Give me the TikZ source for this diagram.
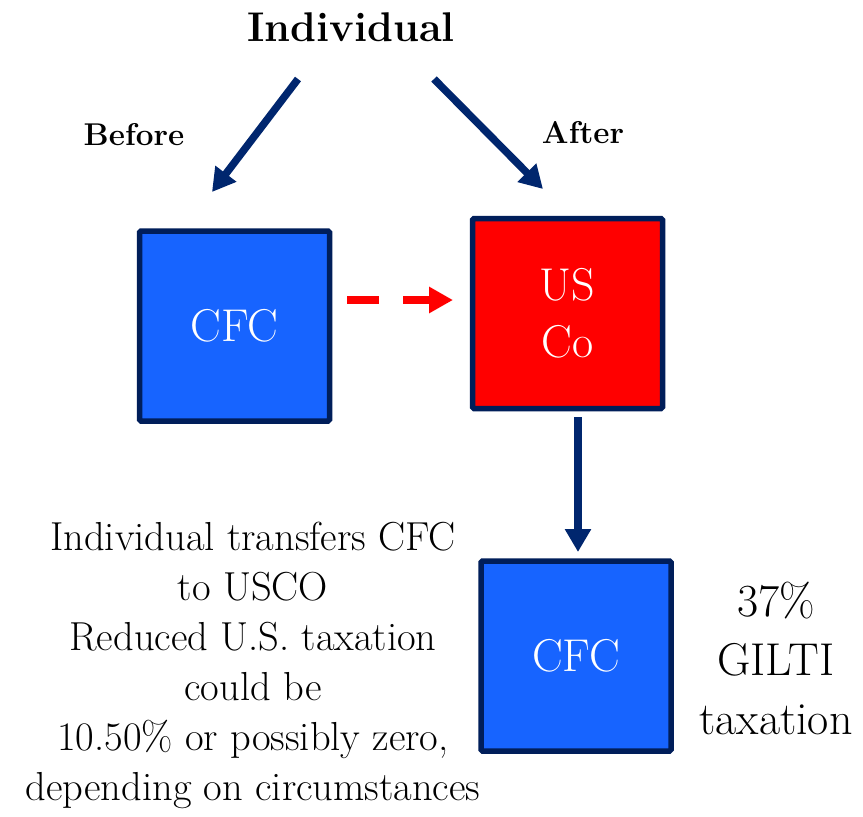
\documentclass[tikz,border=0pt]{standalone}
\usetikzlibrary{arrows.meta}
\definecolor{navy}{RGB}{0,38,110}
\definecolor{edgenavy}{RGB}{0,30,90}
\definecolor{boxblue}{RGB}{23,100,255}
\definecolor{boxred}{RGB}{255,0,0}
\tikzset{
  entity/.style={draw=edgenavy, line width=5.5pt, rounded corners=1.5pt,
    minimum width=190pt, minimum height=190pt, text=white,
    font=\fontsize{46}{57}\selectfont, align=center, inner sep=0pt},
  flow/.style={draw=navy, line width=7.5pt,
    -{Triangle[length=23pt,width=25pt]}},
  move/.style={draw=boxred, line width=7.5pt, dash pattern=on 32pt off 24pt,
    -{Triangle[length=24pt,width=25pt]}},
  caption/.style={font=\fontsize{40.5}{50}\selectfont, align=center, inner sep=0pt},
  tag/.style={font=\bfseries\fontsize{31.5}{36}\selectfont, inner sep=0pt}
}
\begin{document}
\begin{tikzpicture}[x=1pt,y=-1pt]
  \useasboundingbox[fill=white] (0,0) rectangle (863,817);
  % headline and branch labels
  \node[font=\bfseries\fontsize{41.5}{50}\selectfont, inner sep=0pt] (indiv) at (351,27) {Individual};
  \node[tag] (before) at (134,135) {Before};
  \node[tag] (after) at (583,133) {After};
  % entities
  \node[entity, fill=boxblue] (cfcA) at (234.5,326) {CFC};
  \node[entity, fill=boxred] (usco) at (567.5,313.5) {US\\Co};
  \node[entity, fill=boxblue] (cfcB) at (576,656) {CFC};
  % notes
  \node[caption] (note) at (253,665) {Individual transfers CFC\\to USCO\\Reduced U.S. taxation\\could be\\10.50\% or possibly zero,\\depending on circumstances};
  \node[caption, font=\fontsize{46}{59}\selectfont] (gilti) at (776,658) {37\%\\GILTI\\taxation};
  % connector end points
  \coordinate (lstart) at (298,79);
  \coordinate (lend) at (212,192);
  \coordinate (rstart) at (434,79);
  \coordinate (rend) at (543,189);
  \coordinate (dstart) at (347,300);
  \coordinate (dend) at (453,300);
  \coordinate (vstart) at (578,417);
  \coordinate (vend) at (578,552);
  % connectors
  \draw[flow] (lstart) -- (lend);
  \draw[flow] (rstart) -- (rend);
  \draw[move] (dstart) -- (dend);
  \draw[flow] (vstart) -- (vend);
\end{tikzpicture}
\end{document}
